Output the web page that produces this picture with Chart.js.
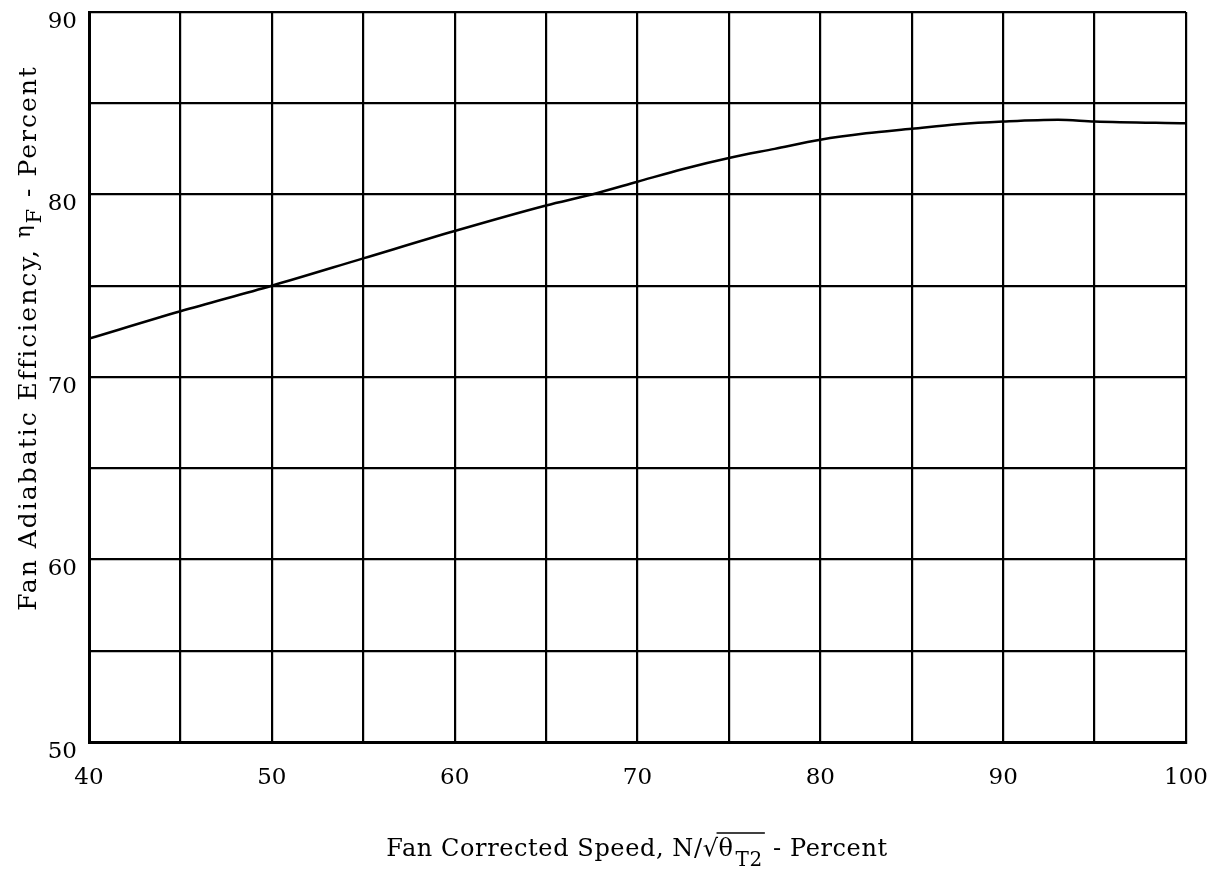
<!DOCTYPE html>
<html>
<head>
<meta charset="utf-8">
<script src="https://cdn.jsdelivr.net/npm/chart.js@4/dist/chart.umd.min.js"></script>
<style>
  html, body { margin: 0; padding: 0; background: #fff; }
  #wrap { width: 1215px; height: 873px; position: relative; }
</style>
</head>
<body>
<div id="wrap"><canvas id="chart"></canvas></div>
<script>
// fan corrected speed (%) and adiabatic efficiency (%)
const speedPct = [40, 45, 50, 55, 60, 65, 67.5, 70, 72.5, 75, 77.5, 80, 82.5, 85, 87.5, 90, 93, 95, 100];
const efficiencyPct = [72.1, 73.6, 75.0, 76.5, 78.0, 79.4, 80.0, 80.7, 81.4, 82.0, 82.5, 83.0, 83.35, 83.6, 83.85, 84.0, 84.1, 84.0, 83.9];

const xMin = 40, xMax = 100, xStep = 5;
const yMin = 50, yMax = 90, yStep = 5;
const tickLabelEvery = 10;

const FONT = "'DejaVu Serif', 'Liberation Serif', serif";

const titlePlugin = {
  id: "axisTitles",
  afterDraw(chart) {
    const ctx = chart.ctx;
    ctx.save();
    ctx.fillStyle = "#000";
    ctx.strokeStyle = "#000";
    ctx.textBaseline = "alphabetic";
    ctx.textAlign = "left";

    // x axis title: Fan Corrected Speed, N/sqrt(theta T2) - Percent
    ctx.letterSpacing = "0.6px";
    let big = "24px " + FONT;
    let small = "20px " + FONT;
    ctx.font = big;
    const p1 = "Fan Corrected Speed, N/\u221A";
    const p2 = "\u03B8";
    const p4 = " - Percent";
    const w1 = ctx.measureText(p1).width;
    const w2 = ctx.measureText(p2).width;
    const w4 = ctx.measureText(p4).width;
    ctx.font = small;
    const w3 = ctx.measureText("T2").width;
    const total = w1 + w2 + w3 + w4 + 4;
    let x = 637 - total / 2;
    const base = 856;
    ctx.font = big;
    ctx.fillText(p1, x, base);
    x += w1;
    ctx.fillText(p2, x, base);
    const barStart = x - 2;
    x += w2 + 2;
    ctx.font = small;
    ctx.fillText("T2", x, base + 10);
    x += w3 + 2;
    ctx.lineWidth = 1.5;
    ctx.beginPath();
    ctx.moveTo(barStart, base - 23);
    ctx.lineTo(x, base - 23);
    ctx.stroke();
    ctx.font = big;
    ctx.fillText(p4, x, base);

    // y axis title: Fan Adiabatic Efficiency, eta_F - Percent
    ctx.letterSpacing = "2px";
    big = "25px " + FONT;
    small = "21px " + FONT;
    ctx.translate(36, 338);
    ctx.rotate(-Math.PI / 2);
    const q1 = "Fan Adiabatic Efficiency, ";
    const q2 = "\u03B7";
    const q4 = " - Percent";
    ctx.font = big;
    const v1 = ctx.measureText(q1).width;
    const v4 = ctx.measureText(q4).width;
    ctx.font = small;
    const v2 = ctx.measureText(q2).width;
    const v3 = ctx.measureText("F").width;
    const tot = v1 + v2 + v3 + v4;
    let t = -tot / 2;
    ctx.font = big;
    ctx.fillText(q1, t, 0);
    t += v1;
    ctx.font = small;
    ctx.fillText(q2, t, -6);
    t += v2;
    ctx.fillText("F", t, 5);
    t += v3;
    ctx.font = big;
    ctx.fillText(q4, t, 0);
    ctx.restore();
  }
};

function noPad(scale) {
  scale.paddingTop = 0;
  scale.paddingBottom = 0;
  scale.paddingLeft = 0;
  scale.paddingRight = 0;
}

new Chart(document.getElementById("chart").getContext("2d"), {
  type: "line",
  data: {
    datasets: [{
      data: speedPct.map((s, i) => ({ x: s, y: efficiencyPct[i] })),
      borderColor: "#000",
      borderWidth: 2.5,
      pointRadius: 0,
      fill: false,
      cubicInterpolationMode: "monotone"
    }]
  },
  options: {
    responsive: true,
    maintainAspectRatio: false,
    animation: false,
    layout: { padding: { left: 0, right: 29, top: 12, bottom: 0 } },
    plugins: { legend: { display: false }, tooltip: { enabled: false } },
    scales: {
      x: {
        type: "linear",
        min: xMin,
        max: xMax,
        afterFit(scale) { scale.height = 131; noPad(scale); },
        afterBuildTicks(scale) {
          const ticks = [];
          for (let v = xMin; v <= xMax; v += xStep) ticks.push({ value: v });
          scale.ticks = ticks;
        },
        ticks: {
          autoSkip: false,
          maxRotation: 0,
          padding: 22,
          color: "#000",
          font: { family: FONT, size: 23 },
          callback: (v) => (v % tickLabelEvery === 0 ? String(v) : "")
        },
        grid: { color: "#000", lineWidth: 2.2, drawTicks: false },
        border: { color: "#000", width: 3 }
      },
      y: {
        type: "linear",
        min: yMin,
        max: yMax,
        afterFit(scale) { scale.width = 89; noPad(scale); },
        afterBuildTicks(scale) {
          const ticks = [];
          for (let v = yMin; v <= yMax; v += yStep) ticks.push({ value: v });
          scale.ticks = ticks;
        },
        ticks: {
          autoSkip: false,
          padding: 12,
          labelOffset: 10,
          color: "#000",
          font: { family: FONT, size: 23 },
          callback: (v) => (v % tickLabelEvery === 0 ? String(v) : "")
        },
        grid: { color: "#000", lineWidth: 2.2, drawTicks: false },
        border: { color: "#000", width: 3 }
      }
    }
  },
  plugins: [titlePlugin]
});
</script>
</body>
</html>
